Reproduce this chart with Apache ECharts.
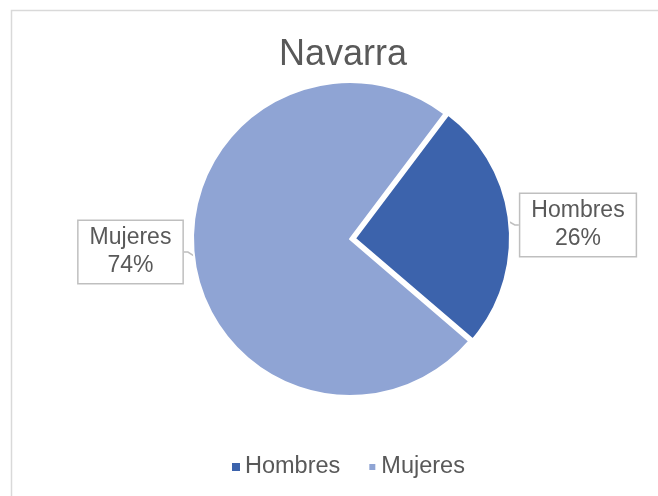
<!DOCTYPE html>
<html>
<head>
<meta charset="utf-8">
<script src="https://cdn.jsdelivr.net/npm/echarts@6/dist/echarts.min.js"></script>
<style>html,body{margin:0;padding:0;background:#fff}#c{width:658px;height:496px}</style>
</head>
<body>
<div id="c"></div>
<script>
const titleText = 'Navarra';
const categories = ['Hombres', 'Mujeres'];
const values = [26, 74];
const colors = ['#3C63AC', '#8FA4D4'];

const chart = echarts.init(document.getElementById('c'), null, {renderer: 'canvas'});
const FONT = '"Liberation Sans", Arial, sans-serif';
const labelPos = {Hombres: {x: 578, y: 225}, Mujeres: {x: 130.5, y: 252}};

function pieSeries(visibleIdx, center, r) {
  return {
    type: 'pie',
    center: center,
    radius: r,
    startAngle: 53,
    clockwise: true,
    silent: true,
    data: categories.map((c, i) => ({
      name: c, value: values[i],
      itemStyle: i === visibleIdx
        ? {color: colors[i], borderColor: '#ffffff', borderWidth: 2}
        : {color: 'rgba(0,0,0,0)', borderWidth: 0},
      label: {show: i === visibleIdx},
      labelLine: {show: i === visibleIdx}
    })),
    label: {
      position: 'outside',
      formatter: '{b}\n{d}%',
      fontFamily: FONT, fontSize: 23, color: '#595959', lineHeight: 28,
      backgroundColor: '#ffffff', borderColor: '#bfbfbf', borderWidth: 1.5,
      padding: [4, 11, 2, 11], align: 'center'
    },
    labelLine: {length: 6, length2: 4, lineStyle: {color: '#bfbfbf', width: 1.5}},
    labelLayout: function (p) {
      const pos = labelPos[categories[p.dataIndex]];
      return {x: pos.x, y: pos.y, align: 'center', verticalAlign: 'middle'};
    }
  };
}

chart.setOption({
  backgroundColor: '#ffffff',
  animation: false,
  graphic: [{
    type: 'rect', silent: true,
    shape: {x: 11.5, y: 10.5, width: 700, height: 600},
    style: {fill: 'none', stroke: '#d9d9d9', lineWidth: 1.5}
  }],
  title: {
    text: titleText, left: 274, top: 32,
    textStyle: {fontFamily: FONT, fontSize: 36, fontWeight: 'normal', color: '#595959'}
  },
  legend: {
    data: categories.map((c, i) => ({name: c, itemStyle: {color: colors[i]}})),
    left: 227, top: 450,
    itemWidth: 8, itemHeight: 8, itemGap: 27, icon: 'rect',
    textStyle: {fontFamily: FONT, fontSize: 23.5, color: '#595959'}
  },
  series: [
    pieSeries(1, [350, 239], 157),
    pieSeries(0, [355, 238.5], 155)
  ]
});
</script>
</body>
</html>
